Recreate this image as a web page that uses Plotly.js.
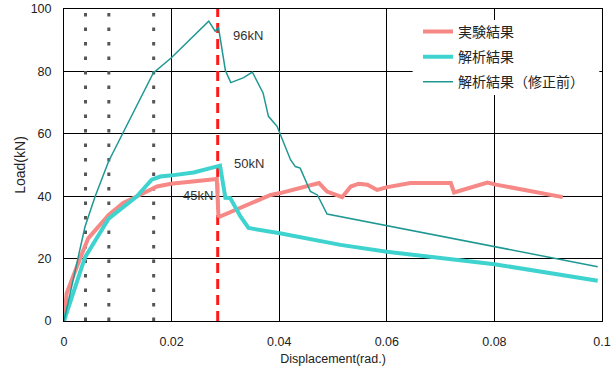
<!DOCTYPE html>
<html><head><meta charset="utf-8">
<script src="https://cdn.plot.ly/plotly-3.0.1.min.js"></script>
<style>html,body{margin:0;padding:0;background:#fff}</style>
</head><body><div id="chart" style="width:614px;height:374px"></div>
<script>
// series names
const seriesNames = ["実験結果", "解析結果", "解析結果（修正前）"];

// 実験結果 (experiment)
const expX = [0, 0.0005, 0.003, 0.0045, 0.0083, 0.011, 0.0135, 0.0173, 0.0199, 0.0241, 0.0284, 0.0287, 0.029, 0.0384, 0.0402, 0.0474, 0.0489, 0.0517, 0.0533, 0.0548, 0.0564, 0.0582, 0.0601, 0.0644, 0.0719, 0.0725, 0.0787, 0.0803, 0.0927];
const expY = [0, 8.9, 20.1, 26.5, 34, 37.8, 39.9, 43.1, 44, 44.7, 45.5, 33.8, 33.5, 40.4, 41, 44.2, 41.5, 39.7, 43.1, 44, 43.7, 42, 42.9, 44.2, 44.2, 41.2, 44.4, 43.7, 39.7];

// 解析結果 (analysis)
const anaX = [0, 0.0039, 0.0083, 0.0107, 0.0135, 0.0163, 0.0179, 0.0197, 0.0241, 0.029, 0.030, 0.0309, 0.0328, 0.0343, 0.0401, 0.0514, 0.06, 0.0688, 0.08, 0.0992];
const anaY = [0, 20.4, 32.8, 36.2, 39.9, 45.3, 46.3, 46.6, 47.6, 49.8, 39.5, 39.4, 33.5, 29.8, 28.1, 24.4, 22.2, 20.4, 18.2, 12.9];

// 解析結果（修正前） (analysis before correction)
const origX = [0, 0.0039, 0.0058, 0.0083, 0.0166, 0.0199, 0.0269, 0.0281, 0.0287, 0.0300, 0.0310, 0.0334, 0.0350, 0.0370, 0.0380, 0.0396, 0.0421, 0.0430, 0.0439, 0.0458, 0.0471, 0.0489, 0.0992];
const origY = [0, 30.2, 40, 51.2, 79.5, 84.3, 96.1, 92.9, 94.2, 80.3, 76.4, 78, 79.8, 73.1, 65.6, 62.4, 51.7, 49.5, 49, 41.5, 40.4, 34.3, 17.4];

// reference drift angles
const driftX = [1/250, 1/120, 1/60];
const peakX = [1/35];

// peak labels
const peakLabels = ["96kN", "50kN", "45kN"];

// axis ticks
const xTicks = [0, 0.02, 0.04, 0.06, 0.08, 0.1];
const xTickText = ["0", "0.02", "0.04", "0.06", "0.08", "0.1"];
const yTicks = [0, 20, 40, 60, 80, 100];

const traces = [
  {x: expX, y: expY, name: seriesNames[0], mode: 'lines', legendgroup: 'a',
   line: {color: '#f68885', width: 4}},
  {x: anaX, y: anaY, name: seriesNames[1], mode: 'lines', legendgroup: 'b',
   line: {color: '#3fd3cf', width: 4}},
  {x: origX, y: origY, name: seriesNames[2], mode: 'lines', legendgroup: 'c',
   line: {color: '#1f9893', width: 1.5}}
];

const shapes = [];
driftX.forEach(v => shapes.push({type: 'line', xref: 'x', yref: 'y', x0: v, x1: v, y0: 0, y1: 100,
  layer: 'between', line: {color: '#555', width: 3, dash: '3.5px,11px'}}));
peakX.forEach(v => shapes.push({type: 'line', xref: 'x', yref: 'y', x0: v, x1: v, y0: 0, y1: 100,
  layer: 'between', line: {color: '#ff1a1a', width: 3, dash: '10px,6px'}}));
shapes.push({type: 'rect', xref: 'x', yref: 'y', x0: 0.0648, x1: 0.0995, y0: 72.4, y1: 96.5,
  layer: 'above', fillcolor: '#fff', line: {width: 0}});

const annFont = {family: 'Liberation Sans, Arial, sans-serif', size: 13, color: '#333'};
const annotations = [
  {x: 0.0342, y: 91.5, text: peakLabels[0]},
  {x: 0.0344, y: 50.4, text: peakLabels[1]},
  {x: 0.02495, y: 40.2, text: peakLabels[2]}
].map(a => Object.assign({xref: 'x', yref: 'y', showarrow: false, font: annFont}, a));

const tickFont = {family: 'Liberation Sans, Arial, sans-serif', size: 12.5, color: '#222'};

const layout = {
  width: 614, height: 374,
  margin: {l: 64, r: 12, t: 9, b: 53},
  paper_bgcolor: '#fff', plot_bgcolor: '#fff',
  showlegend: true,
  legend: {x: 0.658, y: 0.978, xanchor: 'left', yanchor: 'top', bgcolor: 'rgba(0,0,0,0)',
    font: {family: 'Noto Sans CJK JP, sans-serif', size: 14, color: '#222'},
    tracegroupgap: 4},
  xaxis: {range: [0, 0.1], tickvals: xTicks, ticktext: xTickText,
    showgrid: true, gridcolor: '#000', gridwidth: 1, zeroline: false,
    showline: true, linecolor: '#000', linewidth: 1, mirror: true,
    ticks: 'outside', ticklen: 9, tickcolor: 'rgba(0,0,0,0)', tickfont: tickFont,
    title: {text: 'Displacement(rad.)', font: {family: 'Liberation Sans, Arial, sans-serif', size: 12.5, color: '#222'}, standoff: 6}},
  yaxis: {range: [0, 100], tickvals: yTicks,
    showgrid: true, gridcolor: '#000', gridwidth: 1, zeroline: false,
    showline: true, linecolor: '#000', linewidth: 1, mirror: true,
    ticks: 'outside', ticklen: 9, tickcolor: 'rgba(0,0,0,0)', tickfont: tickFont,
    title: {text: 'Load(kN)', font: {family: 'Liberation Sans, Arial, sans-serif', size: 14, color: '#222'}, standoff: 1}},
  shapes: shapes,
  annotations: annotations
};

Plotly.newPlot('chart', traces, layout, {staticPlot: true, displayModeBar: false});
</script>
</body></html>
